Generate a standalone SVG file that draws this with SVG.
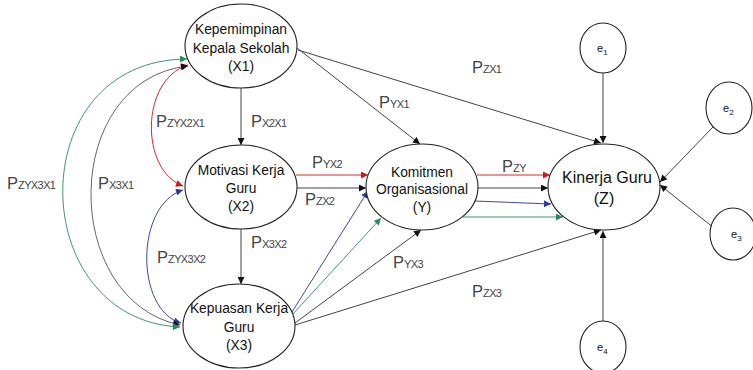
<svg xmlns="http://www.w3.org/2000/svg" width="753" height="370" viewBox="0 0 753 370">
<style>
.node{fill:#fff;stroke:#222;stroke-width:1.1}
.nt{font-family:"Liberation Sans",Arial,sans-serif;font-size:13.8px;fill:#111;text-anchor:middle}
.et{font-family:"Liberation Sans",Arial,sans-serif;font-size:11px;fill:#111}
.lb{font-family:"Liberation Sans",Arial,sans-serif;fill:#444}
.p{font-size:16.5px}
.s{font-size:11px;letter-spacing:-0.6px}
.c{fill:none;stroke-width:1}
.k{stroke:#444}
.r{stroke:#d42a2a}
.b{stroke:#3d48a0}
.g{stroke:#3d9a6b}
.gr{stroke:#666}
</style>
<defs>
<marker id="ak" viewBox="0 0 10 10" refX="10" refY="5" markerWidth="8" markerHeight="7" markerUnits="userSpaceOnUse" orient="auto-start-reverse"><path d="M0,0 L10,5 L0,10 z" fill="#111"/></marker>
<marker id="ar" viewBox="0 0 10 10" refX="10" refY="5" markerWidth="8" markerHeight="7" markerUnits="userSpaceOnUse" orient="auto-start-reverse"><path d="M0,0 L10,5 L0,10 z" fill="#d01818"/></marker>
<marker id="ab" viewBox="0 0 10 10" refX="10" refY="5" markerWidth="8" markerHeight="7" markerUnits="userSpaceOnUse" orient="auto-start-reverse"><path d="M0,0 L10,5 L0,10 z" fill="#2c3a9a"/></marker>
<marker id="ag" viewBox="0 0 10 10" refX="10" refY="5" markerWidth="8" markerHeight="7" markerUnits="userSpaceOnUse" orient="auto-start-reverse"><path d="M0,0 L10,5 L0,10 z" fill="#2e8b5e"/></marker>
</defs>
<g id="connectors">
<path class="c k" d="M241,88 L241,145" marker-end="url(#ak)"/>
<path class="c k" d="M241,229 L241,284" marker-end="url(#ak)"/>
<path class="c k" d="M297,48 L420,144" marker-end="url(#ak)"/>
<path class="c k" d="M298,50 L601,143" marker-end="url(#ak)"/>
<path class="c r" d="M296,175 L368,175" marker-end="url(#ar)"/>
<path class="c k" d="M297,188 L366,188" marker-end="url(#ak)"/>
<path class="c r" d="M477,175 L550,175" marker-end="url(#ar)"/>
<path class="c k" d="M478,188 L548,188" marker-end="url(#ak)"/>
<path class="c b" d="M475,201 L551,204" marker-end="url(#ab)"/>
<path class="c g" d="M463,217 L563,217" marker-end="url(#ag)"/>
<path class="c b" d="M292,312 L368,191" marker-end="url(#ab)"/>
<path class="c g" d="M293,314 L381,218" marker-end="url(#ag)"/>
<path class="c k" d="M295,323 L421,230" marker-end="url(#ak)"/>
<path class="c k" d="M295,325 L601,230" marker-end="url(#ak)"/>
<path class="c k" d="M603,73 L603,143" marker-end="url(#ak)"/>
<path class="c k" d="M713,127 L660,182" marker-end="url(#ak)"/>
<path class="c k" d="M714,228 L660,185" marker-end="url(#ak)"/>
<path class="c k" d="M603,321 L603,231" marker-end="url(#ak)"/>
<path class="c r" d="M188,65 C140,80 140,170 183,186" marker-start="url(#ar)" marker-end="url(#ar)"/>
<path class="c b" d="M183,190 C135,205 135,310 181,323" marker-start="url(#ab)" marker-end="url(#ab)"/>
<path class="c gr" d="M188,66 C60,80 60,300 180,325" marker-start="url(#ak)" marker-end="url(#ak)"/>
<path class="c g" d="M187,59 C20,60 25,320 180,327" marker-start="url(#ag)" marker-end="url(#ag)"/>
</g>
<g id="labels">
<text class="lb" x="472" y="73"><tspan class="p">P</tspan><tspan class="s">ZX1</tspan></text>
<text class="lb" x="379" y="108"><tspan class="p">P</tspan><tspan class="s">YX1</tspan></text>
<text class="lb" x="251" y="127"><tspan class="p">P</tspan><tspan class="s">X2X1</tspan></text>
<text class="lb" x="156" y="127"><tspan class="p">P</tspan><tspan class="s">ZYX2X1</tspan></text>
<text class="lb" x="7" y="189"><tspan class="p">P</tspan><tspan class="s">ZYX3X1</tspan></text>
<text class="lb" x="98" y="189"><tspan class="p">P</tspan><tspan class="s">X3X1</tspan></text>
<text class="lb" x="312" y="168"><tspan class="p">P</tspan><tspan class="s">YX2</tspan></text>
<text class="lb" x="305" y="205"><tspan class="p">P</tspan><tspan class="s">ZX2</tspan></text>
<text class="lb" x="502" y="172"><tspan class="p">P</tspan><tspan class="s">ZY</tspan></text>
<text class="lb" x="251" y="248"><tspan class="p">P</tspan><tspan class="s">X3X2</tspan></text>
<text class="lb" x="157" y="263"><tspan class="p">P</tspan><tspan class="s">ZYX3X2</tspan></text>
<text class="lb" x="393" y="268"><tspan class="p">P</tspan><tspan class="s">YX3</tspan></text>
<text class="lb" x="472" y="297"><tspan class="p">P</tspan><tspan class="s">ZX3</tspan></text>
</g>
<g id="X1">
<ellipse class="node" cx="241" cy="46" rx="56" ry="42"/>
<text class="nt" x="241" y="34">Kepemimpinan</text>
<text class="nt" x="241" y="53">Kepala Sekolah</text>
<text class="nt" x="241" y="71">(X1)</text>
</g>
<g id="X2">
<ellipse class="node" cx="241" cy="187" rx="56" ry="42"/>
<text class="nt" x="241" y="175">Motivasi Kerja</text>
<text class="nt" x="241" y="193">Guru</text>
<text class="nt" x="241" y="211">(X2)</text>
</g>
<g id="X3">
<ellipse class="node" cx="239" cy="326" rx="56" ry="42"/>
<text class="nt" x="239" y="313">Kepuasan Kerja</text>
<text class="nt" x="239" y="332">Guru</text>
<text class="nt" x="239" y="350">(X3)</text>
</g>
<g id="Y">
<ellipse class="node" cx="422" cy="187" rx="56" ry="43"/>
<text class="nt" x="422" y="177">Komitmen</text>
<text class="nt" x="422" y="194">Organisasional</text>
<text class="nt" x="422" y="212">(Y)</text>
</g>
<g id="Z">
<ellipse class="node" cx="604" cy="187" rx="56" ry="43"/>
<text class="nt" x="607" y="183" style="font-size:16px">Kinerja Guru</text>
<text class="nt" x="604" y="204" style="font-size:16px">(Z)</text>
</g>
<g id="e1">
<ellipse class="node" cx="603" cy="48" rx="23" ry="25"/>
<text class="et" x="597" y="52">e<tspan font-size="8" dy="3">1</tspan></text>
</g>
<g id="e2">
<ellipse class="node" cx="729" cy="108" rx="23" ry="26"/>
<text class="et" x="723" y="112">e<tspan font-size="8" dy="3">2</tspan></text>
</g>
<g id="e3">
<ellipse class="node" cx="733" cy="234" rx="23" ry="26"/>
<text class="et" x="731" y="238">e<tspan font-size="8" dy="3">3</tspan></text>
</g>
<g id="e4">
<ellipse class="node" cx="603" cy="347" rx="23" ry="26"/>
<text class="et" x="597" y="351">e<tspan font-size="8" dy="3">4</tspan></text>
</g>
</svg>
